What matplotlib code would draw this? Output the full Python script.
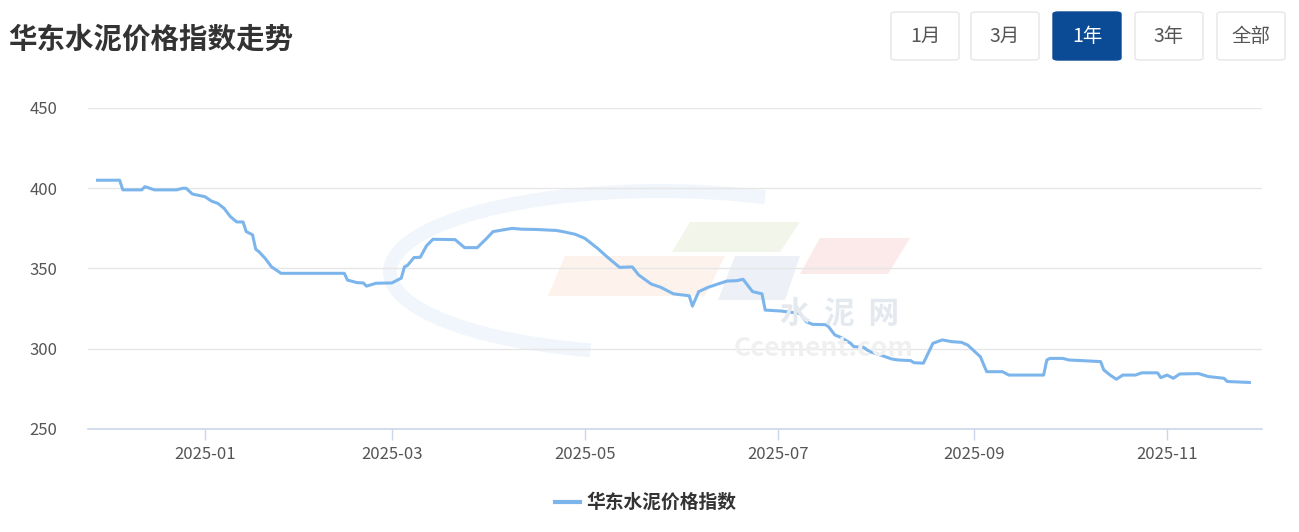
import matplotlib
matplotlib.use("Agg")
import matplotlib.pyplot as plt
import matplotlib.dates as mdates
from matplotlib.patches import FancyBboxPatch, Polygon, Arc
import pandas as pd

plt.rcParams['font.family'] = ['Noto Sans CJK SC', 'DejaVu Sans']

title = "华东水泥价格指数走势"
series_name = "华东水泥价格指数"
buttons = ["1月", "3月", "1年", "3年", "全部"]
active_button = "1年"

dates = [
    "2024-11-28", "2024-12-05", "2024-12-06", "2024-12-12", "2024-12-13", "2024-12-16",
    "2024-12-23", "2024-12-25", "2024-12-26", "2024-12-28", "2025-01-01", "2025-01-03",
    "2025-01-05", "2025-01-07", "2025-01-09", "2025-01-11", "2025-01-13", "2025-01-14",
    "2025-01-16", "2025-01-17", "2025-01-18", "2025-01-20", "2025-01-22", "2025-01-23",
    "2025-01-25", "2025-02-14", "2025-02-15", "2025-02-18", "2025-02-20", "2025-02-21",
    "2025-02-24", "2025-03-01", "2025-03-04", "2025-03-05", "2025-03-06", "2025-03-08",
    "2025-03-10", "2025-03-12", "2025-03-14", "2025-03-21", "2025-03-24", "2025-03-28",
    "2025-03-31", "2025-04-02", "2025-04-05", "2025-04-08", "2025-04-11", "2025-04-16",
    "2025-04-22", "2025-04-24", "2025-04-28", "2025-05-01", "2025-05-05", "2025-05-08",
    "2025-05-12", "2025-05-16", "2025-05-18", "2025-05-22", "2025-05-25", "2025-05-29",
    "2025-06-03", "2025-06-04", "2025-06-06", "2025-06-09", "2025-06-12", "2025-06-15",
    "2025-06-18", "2025-06-20", "2025-06-23", "2025-06-26", "2025-06-27", "2025-07-02",
    "2025-07-08", "2025-07-10", "2025-07-12", "2025-07-16", "2025-07-17", "2025-07-19",
    "2025-07-21", "2025-07-24", "2025-07-25", "2025-07-28", "2025-07-30", "2025-08-03",
    "2025-08-06", "2025-08-08", "2025-08-12", "2025-08-13", "2025-08-16", "2025-08-19",
    "2025-08-22", "2025-08-25", "2025-08-28", "2025-08-30", "2025-09-03", "2025-09-05",
    "2025-09-10", "2025-09-12", "2025-09-23", "2025-09-24", "2025-09-25", "2025-09-29",
    "2025-10-01", "2025-10-11", "2025-10-12", "2025-10-14", "2025-10-16", "2025-10-18",
    "2025-10-22", "2025-10-24", "2025-10-29", "2025-10-30", "2025-11-01", "2025-11-03",
    "2025-11-05", "2025-11-11", "2025-11-14", "2025-11-19", "2025-11-20", "2025-11-27",
]
values = [
    405, 405, 399, 399, 401, 399,
    399, 400, 400, 396.4, 394.7, 392,
    390.6, 387.5, 382.3, 379, 379, 373,
    371, 362, 360.5, 356.3, 351, 349.7,
    347, 347, 342.8, 341.2, 341, 339,
    340.8, 341, 344, 351, 352, 356.8,
    357, 364.2, 368.2, 368, 363, 363,
    368.8, 373, 374, 375, 374.5, 374.3,
    373.7, 373, 371.3, 368.8, 362.6, 357.3,
    350.7, 351, 346, 340.3, 338.3, 334.2,
    333, 326.6, 335.6, 338.3, 340.3, 342.2,
    342.4, 343.3, 335.6, 334.2, 324.1, 323.5,
    322, 316.8, 315.2, 315, 313.8, 308.6,
    307, 303.4, 301.3, 301, 298.2, 295.7,
    293.6, 293, 292.6, 291.3, 291, 303.4,
    305.5, 304.4, 304, 302.3, 295, 285.7,
    285.7, 283.6, 283.6, 293, 294, 294,
    293, 292, 286.8, 283.6, 281, 283.6,
    283.6, 285, 285, 282, 283.6, 281.6,
    284.3, 284.5, 282.7, 281.6, 279.6, 279,
]
y_ticks = [250, 300, 350, 400, 450]
x_ticks = ["2025-01-01", "2025-03-01", "2025-05-01", "2025-07-01", "2025-09-01", "2025-11-01"]

W, H = 1299, 532
fig = plt.figure(figsize=(W / 100, H / 100), dpi=100)
fig.patch.set_facecolor("white")


def fx(x):
    return x / W


def fy(y):
    return 1 - y / H


ax = fig.add_axes([fx(88), fy(429), fx(1262) - fx(88), fy(108) - fy(429)])
ax.set_facecolor("none")

# faint watermark
wm = dict(transform=fig.transFigure, zorder=0.2)
ax.add_patch(Arc((fx(660), fy(272)), fx(540), (fy(190) - fy(352)), theta1=60, theta2=250,
                 edgecolor="#f1f6fc", lw=10, **wm))
for pts, col in [
    ([(690, 222), (800, 222), (780, 252), (672, 252)], "#f1f5ea"),
    ([(820, 238), (910, 238), (888, 274), (800, 274)], "#fce9ea"),
    ([(565, 256), (725, 256), (705, 296), (548, 296)], "#fdf3ec"),
    ([(735, 256), (800, 256), (785, 300), (718, 300)], "#edf0f6"),
]:
    ax.add_patch(Polygon([(fx(a), fy(b)) for a, b in pts], closed=True, facecolor=col,
                         edgecolor="none", **wm))
fig.text(fx(840), fy(314), "水  泥  网", fontsize=22, color="#e4e9ef", ha="center", va="center",
         fontweight="bold", zorder=0.2)
fig.text(fx(824), fy(349), "Ccement.com", fontsize=19, color="#f0f0f0", ha="center", va="center",
         fontweight="bold", zorder=0.2)

x = pd.to_datetime(dates)
ax.plot(x, values, color="#7cb5ec", lw=2.2, zorder=3, solid_joinstyle="round")

ax.set_ylim(250, 450)
ax.set_yticks(y_ticks)
ax.set_xlim(pd.Timestamp("2024-11-25"), pd.Timestamp("2025-12-01"))
ax.set_xticks(pd.to_datetime(x_ticks))
ax.xaxis.set_major_formatter(mdates.DateFormatter("%Y-%m"))

ax.grid(axis="y", color="#e6e6e6", lw=1)
ax.set_axisbelow(True)
for s in ["top", "right", "left"]:
    ax.spines[s].set_visible(False)
ax.spines["bottom"].set_color("#ccd6eb")
ax.spines["bottom"].set_linewidth(1.2)
ax.tick_params(axis="y", length=0, pad=22, labelsize=12, labelcolor="#555555")
ax.tick_params(axis="x", length=8, width=1, color="#ccd6eb", pad=4, labelsize=12,
               labelcolor="#555555")

# title
fig.text(fx(8), fy(40), title, fontsize=20.5, fontweight="bold", color="#333333",
         ha="left", va="center")

# buttons
bx = [891, 971, 1053, 1135, 1217]
for b, x0 in zip(buttons, bx):
    active = b == active_button
    p = FancyBboxPatch((fx(x0), fy(60)), fx(68), fy(12) - fy(60),
                       boxstyle="round,pad=0,rounding_size=0.004",
                       transform=fig.transFigure,
                       facecolor="#0b4a94" if active else "white",
                       edgecolor="#0b4a94" if active else "#e6e6e6", lw=1)
    fig.patches.append(p)
    fig.text(fx(x0 + 34), fy(36), b, fontsize=14, color="white" if active else "#555555",
             ha="center", va="center")

# legend
fig.lines.append(plt.Line2D([fx(555), fx(580)], [fy(502), fy(502)], color="#7cb5ec", lw=3,
                            transform=fig.transFigure))
fig.text(fx(586), fy(502), series_name, fontsize=13.5, fontweight="bold", color="#333333",
         ha="left", va="center")

fig.savefig("out.png", dpi=100)
